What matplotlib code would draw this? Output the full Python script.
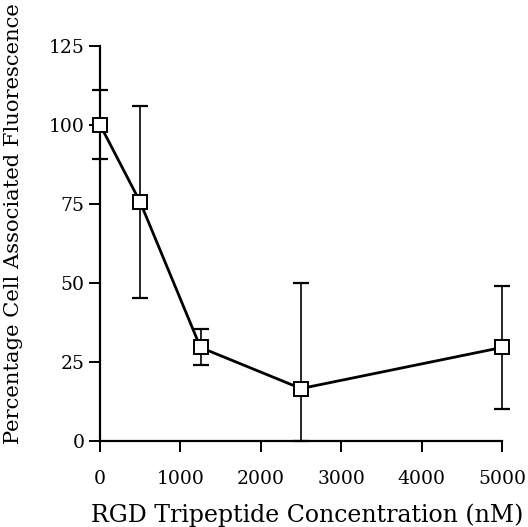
import numpy as np
import matplotlib
matplotlib.use("Agg")
import matplotlib.pyplot as plt

conc = [0, 500, 1250, 2500, 5000]
fluor = [100, 75.5, 29.5, 16.5, 29.5]
err = [11, 30.3, 5.7, 33.3, 19.4]
xticks = [0, 1000, 2000, 3000, 4000, 5000]
yticks = [0, 25, 50, 75, 100, 125]

plt.rcParams['font.family'] = ['DejaVu Serif']

fig = plt.figure(figsize=(5.28, 5.27), dpi=100)
ax = fig.add_axes([0.1894, 0.1638, 0.7614, 0.7495])

y = np.array(fluor)
e = np.array(err)
lower = np.minimum(e, y)
ax.errorbar(conc, y, yerr=[lower, e], fmt='none', ecolor='black',
            elinewidth=1.2, capsize=6, capthick=1.6, clip_on=False, zorder=2)
ax.plot(conc, y, color='black', lw=2.0, marker='s', markersize=10,
        markerfacecolor='white', markeredgecolor='black', markeredgewidth=1.4,
        clip_on=False, zorder=3)

ax.set_xlim(0, 5000)
ax.set_ylim(0, 125)
ax.set_xticks(xticks)
ax.set_yticks(yticks)
for s in ['top', 'right']:
    ax.spines[s].set_visible(False)
for s in ['left', 'bottom']:
    ax.spines[s].set_linewidth(1.6)
ax.tick_params(direction='out', length=8, width=1.4, labelsize=13.5)
ax.tick_params(axis='x', pad=13)
ax.tick_params(axis='y', pad=3)
ax.set_xlabel('RGD Tripeptide Concentration (nM)', fontsize=17)
ax.set_ylabel('Percentage Cell Associated Fluorescence', fontsize=15.2)
ax.xaxis.set_label_coords(0.515, -0.158)
ax.yaxis.set_label_coords(-0.192, 0.549)

fig.savefig('out.png', dpi=100)
